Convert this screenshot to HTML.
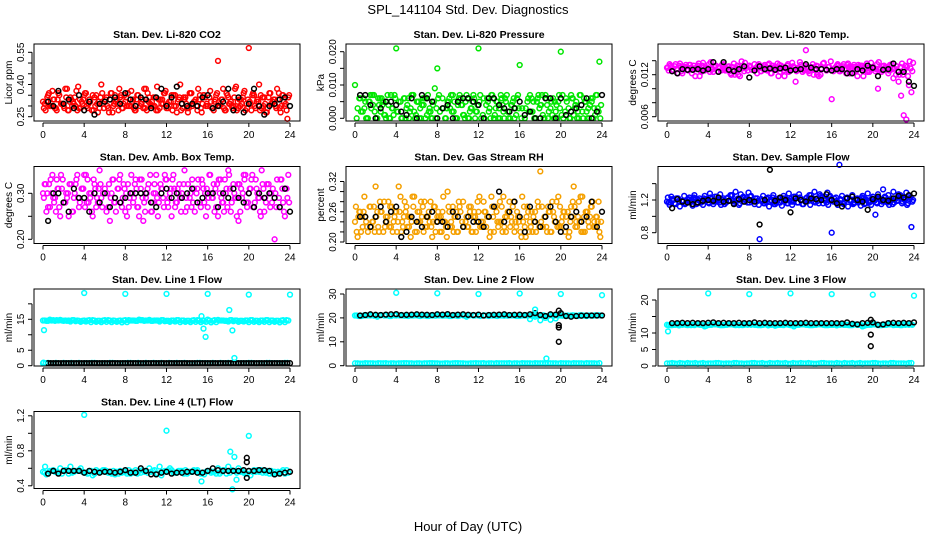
<!DOCTYPE html>
<html><head><meta charset="utf-8"><style>
html,body{margin:0;padding:0;background:#fff;}
svg{display:block;font-family:"Liberation Sans",sans-serif;}
</style></head><body>
<svg id="c" width="936" height="540" xmlns="http://www.w3.org/2000/svg">
<text x="468" y="14" text-anchor="middle" font-size="13">SPL_141104  Std. Dev. Diagnostics</text>
<text x="468" y="531" text-anchor="middle" font-size="13">Hour of Day (UTC)</text>
</svg>
<script>
const hourTicks=[0,4,8,12,16,20,24];
const p1Red=[0.32,0.28,0.35,0.30,0.33,0.29,0.36,0.31,0.30,0.34,0.28,0.33,0.31,0.37,0.29,0.32,
0.35,0.30,0.33,0.28,0.34,0.31,0.29,0.36,0.32,0.30,0.33,0.27,0.35,0.31,0.34,0.29,
0.32,0.36,0.30,0.33,0.28,0.35,0.31,0.29,0.38,0.32,0.30,0.34,0.28,0.33,0.31,0.36,
0.29,0.32,0.35,0.30,0.27,0.34,0.31,0.33,0.29,0.36,0.30,0.32,0.28,0.35,0.31,0.34,
0.30,0.37,0.29,0.33,0.51,0.31,0.38,0.28,0.34,0.32,0.30,0.39,0.29,0.33,0.36,0.31,
0.57,0.28,0.35,0.32,0.40,0.29,0.34,0.27,0.36,0.31,0.33,0.38,0.29,0.35,0.30,0.24];
const p1Black=[0.32,0.30,0.37,0.31,0.33,0.29,0.35,0.28,0.32,0.26,0.31,0.32,0.33,0.34,0.31,0.36,0.33,0.30,0.34,0.33,0.29,0.34,0.38,0.30,0.34,0.39,0.31,0.30,0.31,0.30,0.34,0.35,0.29,0.30,0.32,0.38,0.28,0.34,0.27,0.31,0.38,0.30,0.26,0.30,0.31,0.33,0.34,0.30];
const p2Green=[0.010,0.003,0.006,0.002,0.005,0.000,0.007,0.004,0.000,0.006,0.002,0.005,0.000,0.004,0.007,0.001,
0.021,0.005,0.000,0.006,0.003,0.000,0.007,0.002,0.005,0.000,0.004,0.006,0.001,0.003,0.000,0.009,
0.015,0.002,0.006,0.000,0.005,0.003,0.007,0.000,0.004,0.006,0.001,0.005,0.000,0.003,0.007,0.002,
0.021,0.000,0.006,0.004,0.002,0.007,0.000,0.005,0.003,0.006,0.000,0.007,0.002,0.004,0.000,0.006,
0.016,0.003,0.000,0.005,0.007,0.002,0.000,0.006,0.004,0.001,0.007,0.000,0.003,0.006,0.002,0.005,
0.020,0.000,0.006,0.003,0.007,0.001,0.005,0.000,0.004,0.006,0.002,0.000,0.005,0.003,0.007,0.017];
const p2Black=[0.007,0.007,0.004,0.000,0.003,0.005,0.005,0.004,0.002,0.001,0.006,0.000,0.007,0.006,0.005,0.000,0.003,0.004,0.000,0.005,0.006,0.006,0.005,0.004,0.000,0.006,0.006,0.004,0.003,0.002,0.003,0.005,0.001,0.002,0.000,0.000,0.006,0.006,0.000,0.006,0.001,0.002,0.003,0.004,0.006,0.000,0.002,0.007];
const p3Magenta=[0.0130,0.0135,0.0125,0.0132,0.0128,0.0136,0.0122,0.0131,0.0127,0.0134,0.0129,0.0118,0.0133,0.0126,0.0137,0.0130,
0.0128,0.0138,0.0124,0.0133,0.0131,0.0126,0.0135,0.0129,0.0132,0.0120,0.0136,0.0128,0.0131,0.0139,0.0125,0.0130,
0.0133,0.0127,0.0135,0.0122,0.0131,0.0129,0.0134,0.0126,0.0130,0.0133,0.0128,0.0136,0.0124,0.0131,0.0129,0.0135,
0.0127,0.0132,0.0110,0.0130,0.0134,0.0128,0.0155,0.0125,0.0131,0.0120,0.0133,0.0118,0.0129,0.0137,0.0126,0.0131,
0.0085,0.0128,0.0133,0.0125,0.0130,0.0127,0.0134,0.0122,0.0129,0.0131,0.0118,0.0133,0.0126,0.0130,0.0124,0.0128,
0.0131,0.0125,0.0100,0.0129,0.0126,0.0131,0.0122,0.0127,0.0115,0.0120,0.0110,0.0090,0.0062,0.0056,0.0105,0.0095];
const p3Black=[0.0125,0.0122,0.0128,0.0127,0.0127,0.0128,0.0126,0.0128,0.0138,0.0124,0.0138,0.0127,0.0125,0.0128,0.0132,0.0116,0.0126,0.0132,0.0128,0.0129,0.0127,0.0129,0.0130,0.0126,0.0127,0.0128,0.0135,0.0130,0.0128,0.0128,0.0127,0.0126,0.0128,0.0128,0.0122,0.0122,0.0128,0.0126,0.0133,0.0130,0.0118,0.0127,0.0128,0.0136,0.0124,0.0124,0.0110,0.0104];
const p4Magenta=[0.30,0.32,0.27,0.33,0.29,0.26,0.31,0.34,0.28,0.30,0.25,0.32,0.29,0.33,0.27,0.31,
0.34,0.28,0.30,0.26,0.32,0.29,0.35,0.27,0.31,0.30,0.24,0.33,0.28,0.31,0.34,0.29,
0.26,0.32,0.30,0.28,0.33,0.27,0.31,0.24,0.29,0.32,0.26,0.30,0.34,0.28,0.31,0.27,
0.33,0.29,0.25,0.31,0.28,0.32,0.30,0.35,0.27,0.29,0.33,0.26,0.31,0.28,0.32,0.30,
0.27,0.34,0.29,0.31,0.25,0.33,0.28,0.30,0.35,0.26,0.32,0.29,0.24,0.31,0.34,0.28,
0.30,0.33,0.27,0.31,0.29,0.35,0.26,0.32,0.30,0.28,0.20,0.33,0.27,0.31,0.25,0.29];
const p4Black=[0.24,0.30,0.30,0.28,0.26,0.31,0.29,0.29,0.26,0.30,0.28,0.30,0.27,0.29,0.28,0.29,0.30,0.30,0.30,0.30,0.28,0.27,0.30,0.31,0.29,0.30,0.29,0.30,0.31,0.28,0.29,0.30,0.30,0.27,0.30,0.29,0.31,0.29,0.28,0.30,0.27,0.30,0.29,0.30,0.29,0.27,0.31,0.26];
const p5Orange=[0.24,0.21,0.26,0.23,0.25,0.22,0.27,0.24,0.31,0.23,0.26,0.22,0.25,0.28,0.23,0.24,
0.26,0.31,0.22,0.25,0.27,0.23,0.24,0.29,0.22,0.26,0.25,0.28,0.23,0.24,0.21,0.27,
0.25,0.22,0.26,0.24,0.30,0.23,0.27,0.25,0.22,0.26,0.28,0.24,0.23,0.27,0.25,0.22,
0.26,0.24,0.28,0.23,0.25,0.29,0.22,0.26,0.24,0.27,0.23,0.25,0.28,0.24,0.22,0.26,
0.25,0.29,0.23,0.27,0.24,0.22,0.26,0.28,0.34,0.23,0.25,0.27,0.22,0.26,0.24,0.29,
0.23,0.26,0.25,0.21,0.27,0.31,0.24,0.28,0.22,0.25,0.26,0.23,0.27,0.24,0.25,0.22];
const p5Black=[0.25,0.25,0.23,0.25,0.27,0.24,0.26,0.27,0.21,0.22,0.25,0.24,0.23,0.25,0.26,0.24,0.24,0.23,0.26,0.25,0.23,0.25,0.24,0.24,0.23,0.25,0.27,0.30,0.24,0.26,0.28,0.25,0.22,0.27,0.24,0.23,0.25,0.27,0.24,0.22,0.23,0.25,0.26,0.24,0.25,0.28,0.23,0.26];
const p6Blue=[1.18,1.14,1.21,1.16,1.22,1.12,1.19,1.15,1.20,1.17,1.13,1.22,1.16,1.19,1.14,1.21,
1.17,1.23,1.15,1.18,1.20,1.14,1.22,1.17,1.19,1.25,1.16,1.20,1.14,1.21,1.18,1.23,
1.17,1.20,1.15,1.22,0.72,1.19,1.16,1.21,1.18,1.23,1.15,1.20,1.17,1.22,1.19,1.16,
1.21,1.18,1.24,1.17,1.20,1.15,1.22,1.19,1.26,1.18,1.21,1.16,1.23,1.20,1.17,1.24,
0.80,1.22,1.19,1.63,1.25,1.18,1.23,1.20,1.26,1.17,1.22,1.19,1.25,1.21,1.28,1.18,
1.24,1.02,1.27,1.20,1.33,1.23,1.26,1.19,1.30,1.22,1.27,1.24,1.21,1.29,1.25,0.87];
const p6Black=[1.10,1.21,1.18,1.17,1.15,1.17,1.19,1.20,1.19,1.23,1.18,1.19,1.15,1.21,1.18,1.20,1.18,0.90,1.20,1.57,1.19,1.23,1.20,1.05,1.22,1.20,1.18,1.22,1.21,1.20,1.27,1.20,1.16,1.12,1.22,1.24,1.20,1.18,1.08,1.21,1.24,1.20,1.19,1.22,1.25,1.23,1.26,1.28];
const p7Band=[14.6,14.5,14.7,14.6,14.5,14.6,14.7,14.5,14.6,14.7,14.6,14.5,14.7,14.6,14.5,14.6,14.7,14.6,14.5,14.7,14.6,14.5,14.6,14.7,14.5,14.6,14.7,14.6,14.5,14.6,14.7,14.6,14.9,14.5,14.8,14.6,14.3,14.4,14.2,14.3,14.1,14.2,14.1,14.2,14.1,14.2,14.0,14.1];
const p7Low=[0.8,0.9,0.7,0.8,0.9,0.8,0.7,0.9,0.8,0.8,0.9,0.7,0.8,0.9,0.8,0.7,0.8,0.9,0.8,0.7,0.9,0.8,0.8,0.9,0.7,0.8,0.9,0.8,0.8,0.7,0.9,0.8,0.8,0.9,0.7,0.8,0.9,0.8,0.7,0.8,0.9,0.8,0.8,0.7,0.9,0.8,0.8,0.9];
const p7Black=[0.8,0.8,0.8,0.8,0.8,0.8,0.8,0.8,0.8,0.8,0.8,0.8,0.8,0.8,0.8,0.8,0.8,0.8,0.8,0.8,0.8,0.8,0.8,0.8,0.8,0.8,0.8,0.8,0.8,0.8,0.8,0.8,0.8,0.8,0.8,0.8,0.8,0.8,0.8,0.8,0.8,0.8,0.8,0.8,0.8,0.8,0.8,0.8];
const p7OutHours=[0.1,0.05,4,8,12,16,20,24,15.6,15.8,18.1,18.4,18.6,15.4];
const p7OutValues=[11.5,1,23.5,23.2,23.2,23.2,23,23,12,9.3,18,11.4,2.5,16];
const p8Band=[21,20.8,21.1,21,20.9,21.1,21,20.8,21,21.1,20.9,21,21.1,21,20.8,21,21.1,20.9,21,21,20.8,21.1,21,20.9,21,21.1,20.8,21,21,20.9,21.1,21,20.8,21,19.5,20.5,19,20,19.2,19.8,21,20.8,21,20.9,21.1,20.8,21,21];
const p8Low=[1,0.9,1.1,1,0.9,1,1.1,1,0.9,1,1.1,1,1,0.9,1,1.1,1,0.9,1,1,1.1,1,0.9,1,1,1.1,1,0.9,1,1,1.1,1,0.9,1,1,1.1,1,0.9,1,1,1.1,1,0.9,1,1,1.1,1,0.9];
const p8Black=[21,21.2,21.5,21.3,21.2,21.4,21.5,21.6,21.2,21.3,21.4,21.5,21.4,21.3,21.2,21.5,21.4,21.6,21.2,21.4,21.5,21.3,21.2,21.4,21,21.2,21.3,21.4,21.5,21.2,21.3,21.4,21.2,21.5,22,21.2,20.8,21.5,21.4,22,20.8,20.5,20.8,20.9,21,21,21,21];
const p8OutHours=[4,8,12,16,20,24,18.6,17.5];
const p8OutValues=[30.5,30.3,30,30.2,30,29.5,3,23.5];
const p8BlackOutHours=[19.8,19.8,19.8,19.8];
const p8BlackOutValues=[10,16,23,17];
const p9Band=[12.5,12.4,12.6,12.5,12.4,12.5,12.6,12.4,12.5,12.6,12.5,12.4,12.6,12.5,12.4,12.5,12.6,12.5,12.4,12.6,12.5,12.2,12.5,12.6,12.4,12.5,12.6,12.5,12.4,12.5,12.6,12.4,12.5,12.3,12.6,12.5,12.4,12.5,12.0,12.5,12.6,12.4,12.5,12.6,12.4,12.5,12.6,12.5];
const p9Low=[0.8,0.9,0.7,0.8,0.9,0.8,0.7,0.9,0.8,0.8,0.9,0.7,0.8,0.9,0.8,0.7,0.8,0.9,0.8,0.7,0.9,0.8,0.8,0.9,0.7,0.8,0.9,0.8,0.8,0.7,0.9,0.8,0.8,0.9,0.7,0.8,0.9,0.8,0.7,0.8,0.9,0.8,0.8,0.7,0.9,0.8,0.8,0.9];
const p9Black=[13,13,13.1,13,13.1,13,13,13.1,13.2,13,13.1,13,13,13.1,13,13,13.2,13,13.1,13,13,13,13.1,13,13,13,13.1,13,13,13,13,13,13,12.9,13.2,12.8,12.6,13,13.1,13.2,12.5,12.6,13,13.1,13,13.1,13,13.2];
const p9OutHours=[4,8,12,16,20,24,0.1];
const p9OutValues=[22,21.8,22,21.8,21.6,21.3,10.5];
const p9BlackOutHours=[19.8,19.8,19.8];
const p9BlackOutValues=[6,9.5,14];
const p10Band=[0.56,0.54,0.58,0.55,0.57,0.54,0.56,0.58,0.55,0.57,0.54,0.56,0.58,0.55,0.53,0.57,0.56,0.54,0.58,0.55,0.57,0.56,0.54,0.52,0.56,0.58,0.55,0.57,0.54,0.56,0.58,0.55,0.57,0.56,0.60,0.58,0.62,0.57,0.60,0.55,0.57,0.58,0.56,0.57,0.54,0.56,0.55,0.54];
const p10Black=[0.54,0.57,0.54,0.57,0.57,0.57,0.57,0.55,0.57,0.56,0.55,0.56,0.56,0.55,0.56,0.58,0.55,0.55,0.60,0.57,0.53,0.53,0.55,0.56,0.54,0.55,0.55,0.56,0.56,0.55,0.55,0.57,0.60,0.58,0.57,0.57,0.57,0.57,0.58,0.57,0.57,0.58,0.58,0.57,0.53,0.54,0.55,0.56];
const p10OutHours=[4,12,20,18.2,18.4,18.6,18.8,15.4,0.2];
const p10OutValues=[1.21,1.03,0.97,0.79,0.36,0.73,0.47,0.45,0.62];
const p10BlackOutHours=[19.8,19.8,19.8];
const p10BlackOutValues=[0.72,0.67,0.49];

const svg=document.getElementById('c');
const NS='http://www.w3.org/2000/svg';
function mk(tag,attrs,parent){const e=document.createElementNS(NS,tag);for(const k in attrs)e.setAttribute(k,attrs[k]);(parent||svg).appendChild(e);return e;}
const BOXH=77,BOXW=266;
const rowTops=[44,166.5,289,411.5];
function panel(o){
  const g=mk('g',{});
  
  
  const L=o.col*312+34,T=rowTops[o.row];
  const xs=h=>L+9+h*(256-9)/24;
  const k=(o.y2p-o.y1p)/(o.y2-o.y1);
  const ys=v=>T+o.y1p+(v-o.y1)*k;
  const t=mk('text',{x:L+BOXW/2,y:T-6,'text-anchor':'middle','font-size':'10.5','font-weight':'bold'},g);
  t.textContent=o.title;
  
  
  const pts=mk('g',{fill:'none','stroke-width':'1.5'},g);
  function dot(h,v,c){const e=mk('circle',{cx:xs(h).toFixed(1),cy:ys(v).toFixed(1),r:2.4,stroke:c},pts);
    
    }
  (o.series||[]).forEach(s=>{
    const n=s.vals.length, step=24/n;
    const layers=s.layers||1;
    for(let L2=0;L2<layers;L2++){
      s.vals.forEach((_,i)=>{
        const j=(i+L2*31)%n;
        const v=s.vals[j];
        if(L2>0 && s.band && (v<s.band[0]||v>s.band[1])) return;
        const h=i*step+(s.off||0)+L2*step/layers;
        if(h<=24.05) dot(Math.min(24,h),v,s.color);
      });
    }
  });
  (o.pairs||[]).forEach(p=>p.h.forEach((h,i)=>dot(h,p.v[i],p.color)));
  const box=mk('rect',{x:L,y:T,width:BOXW,height:BOXH,fill:'none',stroke:'#000','stroke-width':'1'},g);
  
  
  const B=T+BOXH+2;
  mk('line',{x1:xs(0),x2:xs(24),y1:B,y2:B,stroke:'#000'},g);
  hourTicks.forEach(h=>{
    mk('line',{x1:xs(h),x2:xs(h),y1:B,y2:B+4,stroke:'#000'},g);
    const tl=mk('text',{x:xs(h),y:B+15,'text-anchor':'middle','font-size':'10'},g);
    tl.textContent=h;
    
    
  });
  const AX=L-2;
  mk('line',{x1:AX,x2:AX,y1:ys(o.ticks[0]),y2:ys(o.ticks[o.ticks.length-1]),stroke:'#000'},g);
  o.ticks.forEach((v,i)=>{
    mk('line',{x1:AX-4,x2:AX,y1:ys(v),y2:ys(v),stroke:'#000'},g);
    if(o.labels[i]!==''){
      const tl=mk('text',{x:0,y:0,'text-anchor':'middle','font-size':'10',transform:`translate(${AX-8},${ys(v)}) rotate(-90)`},g);
      tl.textContent=o.labels[i];
      
      
    }
  });
  const yt=mk('text',{x:0,y:0,'text-anchor':'middle','font-size':'10',transform:`translate(${L-22},${T+BOXH/2}) rotate(-90)`},g);
  yt.textContent=o.ylab;
  
  
}
const BK='#000';
panel({name:'co2-panel',row:0,col:0,title:'Stan. Dev. Li-820 CO2',ylab:'Licor ppm',y1:0.25,y1p:72.7,y2:0.55,y2p:8.3,
 ticks:[0.25,0.30,0.35,0.40,0.45,0.50,0.55],labels:['0.25','','','0.40','','','0.55'],
 series:[{vals:p1Red,color:'#ff0000',layers:3,band:[0.26,0.40]},{vals:p1Black,color:BK,off:0.5}]});
panel({name:'pressure-panel',row:0,col:1,title:'Stan. Dev. Li-820 Pressure',ylab:'kPa',y1:0,y1p:74.3,y2:0.02,y2p:7.7,
 ticks:[0,0.005,0.010,0.015,0.020],labels:['0.000','','0.010','','0.020'],
 series:[{vals:p2Green,color:'#00e600',layers:3,band:[0,0.008]},{vals:p2Black,color:BK,off:0.5}]});
panel({name:'li820-temp-panel',row:0,col:2,title:'Stan. Dev. Li-820 Temp.',ylab:'degrees C',y1:0.006,y1p:72.7,y2:0.014,y2p:16.7,
 ticks:[0.006,0.008,0.010,0.012,0.014],labels:['0.006','','','0.012',''],
 series:[{vals:p3Magenta,color:'#ff00ff',layers:3,band:[0.0118,0.0140]},{vals:p3Black,color:BK,off:0.5}]});
panel({name:'box-temp-panel',row:1,col:0,title:'Stan. Dev. Amb. Box Temp.',ylab:'degrees C',y1:0.20,y1p:72.8,y2:0.30,y2p:26.8,
 ticks:[0.20,0.25,0.30],labels:['0.20','','0.30'],
 series:[{vals:p4Magenta,color:'#ff00ff',layers:3,band:[0.25,0.34]},{vals:p4Black,color:BK,off:0.5}]});
panel({name:'rh-panel',row:1,col:1,title:'Stan. Dev. Gas Stream RH',ylab:'percent',y1:0.20,y1p:75.5,y2:0.32,y2p:15,
 ticks:[0.20,0.22,0.24,0.26,0.28,0.30,0.32],labels:['0.20','','','0.26','','','0.32'],
 series:[{vals:p5Orange,color:'#f5a000',layers:3,band:[0.21,0.29]},{vals:p5Black,color:BK,off:0.5}]});
panel({name:'sample-flow-panel',row:1,col:2,title:'Stan. Dev. Sample Flow',ylab:'ml/min',y1:0.8,y1p:66.2,y2:1.2,y2p:33.5,
 ticks:[0.8,1.0,1.2,1.4],labels:['0.8','','1.2',''],
 series:[{vals:p6Blue,color:'#0000ff',layers:3,band:[1.1,1.3]},{vals:p6Black,color:BK,off:0.5}]});
panel({name:'line1-flow-panel',row:2,col:0,title:'Stan. Dev. Line 1 Flow',ylab:'ml/min',y1:0,y1p:76.7,y2:15,y2p:30.3,
 ticks:[0,5,10,15,20],labels:['0','5','','15',''],
 series:[{vals:p7Band,color:'#00ffff',layers:3},{vals:p7Low,color:'#00ffff',layers:2},{vals:p7Black,color:BK,off:0.5,layers:2}],
 pairs:[{h:p7OutHours,v:p7OutValues,color:'#00ffff'}]});
panel({name:'line2-flow-panel',row:2,col:1,title:'Stan. Dev. Line 2 Flow',ylab:'ml/min',y1:0,y1p:76.7,y2:30,y2p:5,
 ticks:[0,10,20,30],labels:['0','10','20','30'],
 series:[{vals:p8Band,color:'#00ffff',layers:3,band:[20.5,21.5]},{vals:p8Low,color:'#00ffff',layers:2},{vals:p8Black,color:BK,off:0.5}],
 pairs:[{h:p8OutHours,v:p8OutValues,color:'#00ffff'},{h:p8BlackOutHours,v:p8BlackOutValues,color:BK}]});
panel({name:'line3-flow-panel',row:2,col:2,title:'Stan. Dev. Line 3 Flow',ylab:'ml/min',y1:0,y1p:77,y2:20,y2p:11,
 ticks:[0,5,10,15,20],labels:['0','5','10','','20'],
 series:[{vals:p9Band,color:'#00ffff',layers:3},{vals:p9Low,color:'#00ffff',layers:2},{vals:p9Black,color:BK,off:0.5}],
 pairs:[{h:p9OutHours,v:p9OutValues,color:'#00ffff'},{h:p9BlackOutHours,v:p9BlackOutValues,color:BK}]});
panel({name:'line4-flow-panel',row:3,col:0,title:'Stan. Dev. Line 4 (LT) Flow',ylab:'ml/min',y1:0.4,y1p:74.3,y2:1.2,y2p:4.3,
 ticks:[0.4,0.6,0.8,1.0,1.2],labels:['0.4','','0.8','','1.2'],
 series:[{vals:p10Band,color:'#00ffff',layers:3},{vals:p10Black,color:BK,off:0.5}],
 pairs:[{h:p10OutHours,v:p10OutValues,color:'#00ffff'},{h:p10BlackOutHours,v:p10BlackOutValues,color:BK}]});
</script>
</body></html>
